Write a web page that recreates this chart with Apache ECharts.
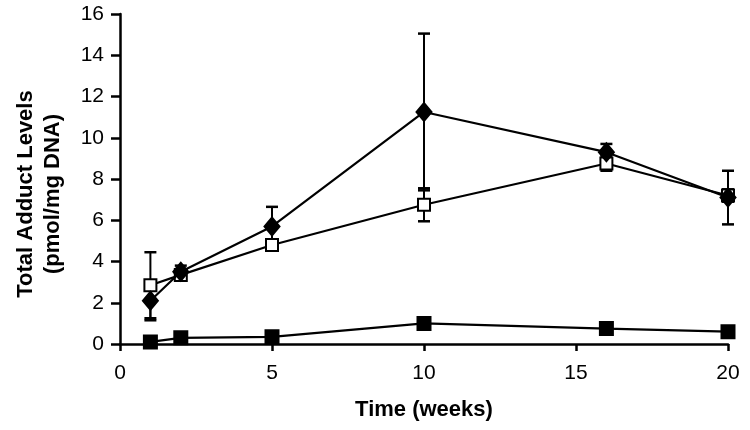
<!DOCTYPE html>
<html><head><meta charset="utf-8">
<script src="https://cdn.jsdelivr.net/npm/echarts@6/dist/echarts.min.js"></script>
<style>html,body{margin:0;padding:0;background:#fff}#c{width:750px;height:430px}</style>
</head><body><div id="c"></div>
<script>
const weeks = [1, 2, 5, 10, 16, 20];
const diamondMean = [2.1, 3.5, 5.7, 11.25, 9.3, 7.1];
const diamondSD   = [0.95, 0.3, 0.95, 3.8, 0.4, 1.3];
const openMean    = [2.85, 3.35, 4.8, 6.75, 8.75, 7.2];
const openSD      = [1.6, 0.2, 0.2, 0.8, 0.35, 0.3];
const filledMean  = [0.1, 0.3, 0.35, 1.0, 0.75, 0.6];
const filledSD    = [0.05, 0.05, 0.05, 0.1, 0.05, 0.05];
const xTicks = [0, 5, 10, 15, 20];
const yTicks = [0, 2, 4, 6, 8, 10, 12, 14, 16];

const FONT = '"Liberation Sans", Arial, sans-serif';
const chart = echarts.init(document.getElementById('c'), null, {renderer: 'canvas'});

function pairs(m) { return weeks.map((w, i) => [w, m[i]]); }
function errData(m, s) { return weeks.map((w, i) => [w, m[i] - s[i], m[i] + s[i]]); }
function errSeries(m, s) {
  return {
    type: 'custom', z: 1, silent: true,
    data: errData(m, s),
    encode: {x: 0, y: [1, 2]},
    renderItem: function (params, api) {
      const x = api.value(0);
      const lo = api.coord([x, api.value(1)]);
      const hi = api.coord([x, api.value(2)]);
      const hw = 6;
      return {type: 'group', children: [
        {type: 'line', shape: {x1: lo[0], y1: lo[1], x2: hi[0], y2: hi[1]}, style: {stroke: '#000', lineWidth: 2}},
        {type: 'line', shape: {x1: lo[0] - hw, y1: lo[1], x2: lo[0] + hw, y2: lo[1]}, style: {stroke: '#000', lineWidth: 2.5}},
        {type: 'line', shape: {x1: hi[0] - hw, y1: hi[1], x2: hi[0] + hw, y2: hi[1]}, style: {stroke: '#000', lineWidth: 2.5}}
      ]};
    }
  };
}
function lineSeries(m, symbol, size, fill, z) {
  return {
    type: 'line', data: pairs(m), z: z,
    symbol: symbol, symbolSize: size, showAllSymbol: true,
    lineStyle: {color: '#000', width: 2.2},
    itemStyle: {color: fill, borderColor: '#000', borderWidth: 2, opacity: 1},
    emphasis: {disabled: true}, animation: false
  };
}

chart.setOption({
  animation: false,
  backgroundColor: '#fff',
  grid: {left: 120, top: 14, right: 22, bottom: 86},
  xAxis: {
    type: 'value', min: 0, max: 20, interval: 5,
    axisLine: {lineStyle: {color: '#000', width: 2.5}},
    axisTick: {show: true, length: 7, lineStyle: {color: '#000', width: 2.5}},
    axisLabel: {color: '#000', fontSize: 21, fontFamily: FONT, margin: 19,
      customValues: xTicks},
    splitLine: {show: false},
    name: 'Time (weeks)', nameLocation: 'middle', nameGap: 55,
    nameTextStyle: {color: '#000', fontSize: 22, fontWeight: 'bold', fontFamily: FONT}
  },
  yAxis: {
    type: 'value', min: 0, max: 16, interval: 2,
    axisLine: {show: true, lineStyle: {color: '#000', width: 2.5}},
    axisTick: {show: true, length: 9, lineStyle: {color: '#000', width: 2.5}},
    axisLabel: {color: '#000', fontSize: 21, fontFamily: FONT, margin: 16,
      customValues: yTicks},
    splitLine: {show: false}
  },
  graphic: [{
    type: 'text',
    x: 39, y: 194,
    rotation: Math.PI / 2,
    style: {
      text: 'Total Adduct Levels\n(pmol/mg DNA)',
      fill: '#000', font: 'bold 22px ' + FONT, align: 'center',
      verticalAlign: 'middle', lineHeight: 27
    }
  }],
  series: [
    errSeries(diamondMean, diamondSD),
    errSeries(openMean, openSD),
    errSeries(filledMean, filledSD),
    lineSeries(filledMean, 'rect', 13, '#000', 3),
    lineSeries(openMean, 'rect', 12, '#fff', 4),
    lineSeries(diamondMean, 'diamond', [15, 18], '#000', 5)
  ]
});
</script>
</body></html>
